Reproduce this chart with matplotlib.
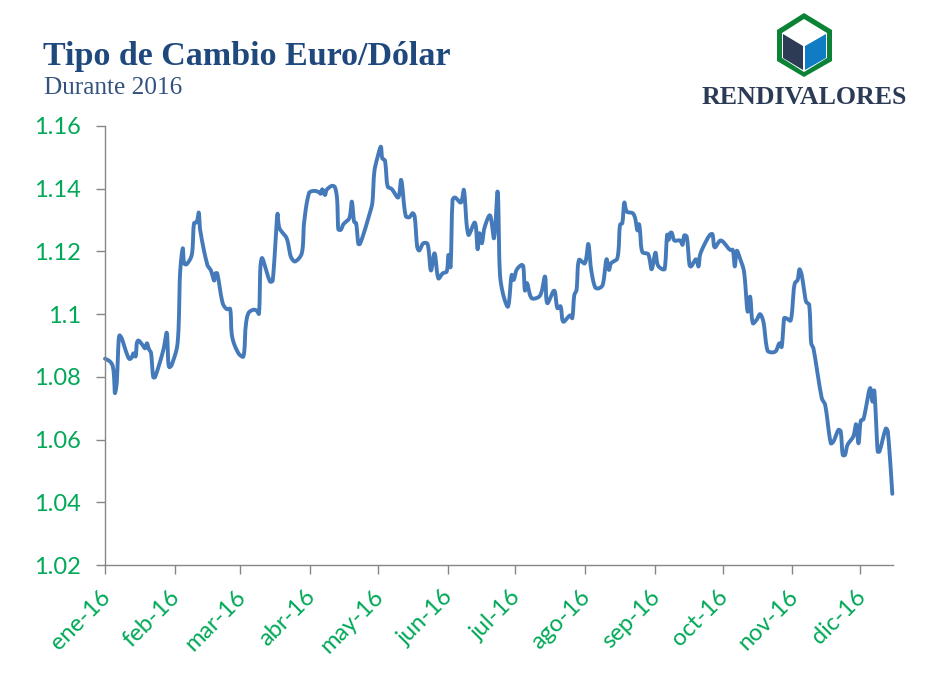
import numpy as np
import matplotlib
matplotlib.use("Agg")
import matplotlib.pyplot as plt
import matplotlib.dates as mdates
from matplotlib.patches import Polygon
from matplotlib.transforms import Affine2D, ScaledTranslation

W, H = 941, 677

# Days elapsed since 1 January 2016
days = [0, 2.2, 3.4, 4.0, 4.4, 5.2, 5.9, 6.4, 7.4, 9.6, 10.8, 11.8, 12.6, 13.6, 14.1, 14.8, 16.3, 17.8, 18.6, 19.5,
        20.4, 21.4, 22.2, 25.9, 27.4, 28, 28.5, 29.6, 32.2, 33.3, 34.5, 35.1, 36.2, 38.5, 39.5, 40.7, 41.6, 42.2,
        45.4, 46.9, 48.4, 49, 49.8, 52.2, 54, 55.5, 56.4, 59.2, 61.4, 62.4, 63.6, 65.8, 67.3, 68.3, 69.5, 73.2,
        74.4, 76.5, 77.4, 80.6, 82.4, 84.3, 87.3, 88.3, 90.5, 92.4, 94.7, 95.7, 96.4, 97.6, 98.3, 100.6, 102, 103,
        103.5, 104.6, 105.8, 108.4, 109.5, 110.5, 111.4, 112.4, 113.1, 115.3, 117.2, 118.6, 119.5, 121.2, 122.4,
        123, 124.2, 125.4, 127.2, 130.1, 131.4, 133.4, 135, 136.5, 137.4, 138.5, 139.4, 141.2, 143.1, 144.6, 146.2,
        147.9, 149.8, 151.6, 152.4, 153.3, 154.2, 155.3, 157.9, 159.2, 161.2, 164.1, 165.3, 166.1, 167.2, 168.3,
        170.8, 172.6, 174.2, 175.2, 176.7, 178.8, 180.4, 181.3, 182.6, 184.8, 185.6, 186.3, 187.2, 189.3, 193,
        195.2, 196.2, 199.3, 200.7, 202.1, 203.3, 206.3, 207.3, 208.2, 209.2, 210.3, 212.9, 214.4, 215.6, 217.4,
        218.9, 220.8, 222.5, 223.6, 224.5, 227.3, 228.5, 229.5, 230.4, 231.5, 234.1, 235.2, 236.2, 236.9, 237.4,
        238.4, 241, 242.5, 244.2, 245.2, 247, 248.3, 249.4, 250.1, 250.7, 251.4, 252.6, 255.1, 256.2, 257, 258.1,
        259.3, 260, 262.2, 263.3, 264, 266.2, 268.4, 269.5, 270.5, 273.2, 277.3, 278.5, 279.4, 280.3, 281.7, 283.5,
        285.1, 286.2, 287.4, 289.1, 290.6, 292.1, 293.9, 295.8, 297.6, 299.2, 300.2, 301.3, 302.2, 304.2, 305.4,
        306.1, 307.3, 308.1, 309.1, 311, 312.4, 313.3, 314.3, 318, 319.5, 322, 323.2, 325.4, 326.4, 327.3, 328.3,
        329.4, 332, 333.2, 334.3, 335.3, 336.5, 339.4, 340.5, 341.3, 342.8, 343.6, 346.4, 347.3, 349.3]

# EUR/USD rate at those days
rates = [1.0858, 1.0849, 1.0835, 1.0801, 1.0748, 1.0780, 1.0897, 1.0932, 1.0923, 1.0875, 1.0857, 1.0861, 1.0875,
         1.0865, 1.0907, 1.0916, 1.0905, 1.0891, 1.0907, 1.0888, 1.0877, 1.0799, 1.0799, 1.0886, 1.0941, 1.0854,
         1.0831, 1.0838, 1.0907, 1.1130, 1.1210, 1.1162, 1.1159, 1.1189, 1.1290, 1.1293, 1.1324, 1.1269, 1.1157,
         1.1141, 1.1107, 1.1130, 1.1130, 1.1035, 1.1016, 1.1017, 1.0928, 1.0875, 1.0865, 1.0960, 1.1003, 1.1014,
         1.1011, 1.1001, 1.1178, 1.1104, 1.1107, 1.1319, 1.1274, 1.1242, 1.1184, 1.1168, 1.1194, 1.1290, 1.1386,
         1.1393, 1.1390, 1.1384, 1.1398, 1.1380, 1.1396, 1.1409, 1.1405, 1.1364, 1.1271, 1.1269, 1.1287, 1.1306,
         1.1359, 1.1295, 1.1290, 1.1224, 1.1224, 1.1269, 1.1316, 1.1354, 1.1455, 1.1508, 1.1534, 1.1497, 1.1490,
         1.1407, 1.1399, 1.1372, 1.1428, 1.1313, 1.1309, 1.1322, 1.1311, 1.1215, 1.1203, 1.1226, 1.1224, 1.1139,
         1.1194, 1.1114, 1.1130, 1.1136, 1.1189, 1.1150, 1.1364, 1.1372, 1.1356, 1.1396, 1.1253, 1.1292, 1.1207,
         1.1258, 1.1226, 1.1274, 1.1315, 1.1242, 1.1391, 1.1130, 1.1061, 1.1024, 1.1125, 1.1109, 1.1141, 1.1157,
         1.1152, 1.1075, 1.1099, 1.1051, 1.1059, 1.1120, 1.1035, 1.1075, 1.1019, 1.1025, 1.0976, 1.0996, 1.0987,
         1.1061, 1.1077, 1.1173, 1.1162, 1.1224, 1.1146, 1.1086, 1.1082, 1.1093, 1.1175, 1.1141, 1.1162, 1.1178,
         1.1285, 1.1290, 1.1356, 1.1327, 1.1322, 1.1306, 1.1267, 1.1287, 1.1263, 1.1198, 1.1191, 1.1143, 1.1196,
         1.1157, 1.1144, 1.1144, 1.1253, 1.1237, 1.1258, 1.1260, 1.1235, 1.1235, 1.1221, 1.1251, 1.1247, 1.1157,
         1.1152, 1.1175, 1.1152, 1.1189, 1.1226, 1.1253, 1.1255, 1.1213, 1.1235, 1.1205, 1.1205, 1.1152, 1.1202,
         1.1178, 1.1136, 1.1008, 1.1056, 1.0971, 1.0982, 1.1000, 1.0976, 1.0884, 1.0878, 1.0882, 1.0907, 1.0895,
         1.0987, 1.0987, 1.0980, 1.1067, 1.1099, 1.1109, 1.1143, 1.1125, 1.1040, 1.1030, 1.0907, 1.0891, 1.0732,
         1.0711, 1.0588, 1.0594, 1.0631, 1.0626, 1.0551, 1.0551, 1.0583, 1.0610, 1.0649, 1.0588, 1.0660, 1.0665,
         1.0764, 1.0721, 1.0756, 1.0562, 1.0562, 1.0635, 1.0626, 1.0427]

tick_dates = ["2016-01-01", "2016-02-01", "2016-03-01", "2016-04-01", "2016-05-01", "2016-06-01",
              "2016-07-01", "2016-08-01", "2016-09-01", "2016-10-01", "2016-11-01", "2016-12-01"]
tick_labels = ["ene-16", "feb-16", "mar-16", "abr-16", "may-16", "jun-16",
               "jul-16", "ago-16", "sep-16", "oct-16", "nov-16", "dic-16"]
y_ticks = [1.02, 1.04, 1.06, 1.08, 1.10, 1.12, 1.14, 1.16]
y_labels = ["1.02", "1.04", "1.06", "1.08", "1.1", "1.12", "1.14", "1.16"]

GREEN = "#00A857"
GREY = "#868686"
LINE = "#447AB9"
TITLE = "#1F497D"


def smooth(xs, ys, aspect, steps=10):
    """Spreadsheet-style smoothed line through the points (chord-length Hermite)."""
    P = np.column_stack([xs, ys])
    S = P * [1.0, aspect]
    d = np.hypot(*np.diff(S, axis=0).T)
    d = np.maximum(d, 1e-6)
    T = np.zeros_like(S)
    T[1:-1] = (S[2:] - S[:-2]) / (d[1:] + d[:-1])[:, None]
    T[0] = (S[1] - S[0]) / d[0]
    T[-1] = (S[-1] - S[-2]) / d[-1]
    out = [S[0]]
    t = np.linspace(0, 1, steps + 1)[1:, None]
    for i in range(len(S) - 1):
        h00 = 2 * t**3 - 3 * t**2 + 1
        h10 = t**3 - 2 * t**2 + t
        h01 = -2 * t**3 + 3 * t**2
        h11 = t**3 - t**2
        out.extend(h00 * S[i] + h10 * d[i] * T[i] + h01 * S[i + 1] + h11 * d[i] * T[i + 1])
    out = np.array(out) / [1.0, aspect]
    return out[:, 0], out[:, 1]


fig = plt.figure(figsize=(W / 100, H / 100), dpi=100, facecolor="white")
ax = fig.add_axes([105 / W, 1 - 565 / H, (893 - 105) / W, (565 - 126) / H])

start = mdates.date2num(np.datetime64("2016-01-01"))
day_scale = (893 - 105) / 349.6          # screen units per day
rate_scale = (565 - 126) / 0.14          # screen units per unit of rate
sx, sy = smooth(np.array(days), np.array(rates), rate_scale / day_scale)
ax.plot(start + sx, sy, color=LINE, lw=2.8, solid_joinstyle="round", solid_capstyle="round", clip_on=False)

ax.set_xlim(start, start + 349.6)
ax.set_ylim(1.02, 1.16)
ax.set_yticks(y_ticks)
ax.set_yticklabels(y_labels)
ax.set_xticks([mdates.date2num(np.datetime64(d)) for d in tick_dates])
ax.set_xticklabels(tick_labels, rotation=45, ha="right", va="center", rotation_mode="anchor")

for s in ("top", "right"):
    ax.spines[s].set_visible(False)
for s in ("left", "bottom"):
    ax.spines[s].set_color(GREY)
    ax.spines[s].set_linewidth(1.0)
ax.tick_params(axis="both", direction="out", length=6.5, width=1.0, color=GREY, labelcolor=GREEN)
ax.tick_params(axis="y", pad=11, labelsize=17)
ax.tick_params(axis="x", pad=14, labelsize=17)
shift = ScaledTranslation(2 / 100, 0, fig.dpi_scale_trans)
for lab in ax.get_xticklabels():
    lab.set_fontfamily(["Lato", "DejaVu Sans"])
    lab.set_transform(lab.get_transform() + shift)
for lab in ax.get_yticklabels():
    lab.set_fontfamily(["Lato", "DejaVu Sans"])

# Heading
fig.text(43 / W, 1 - 65 / H, "Tipo de Cambio Euro/Dólar", family="Liberation Serif", weight="bold",
         fontsize=24.5, color=TITLE, ha="left", va="baseline")
fig.text(44 / W, 1 - 94 / H, "Durante 2016", family="Liberation Serif", fontsize=18.2,
         color="#33527F", ha="left", va="baseline")

# Logo
px = Affine2D().scale(1 / W, -1 / H).translate(0, 1) + fig.transFigure


def shape(points, color, z=5):
    fig.add_artist(Polygon(points, closed=True, facecolor=color, edgecolor="none", transform=px, zorder=z))


shape([(804, 13), (832, 30), (832, 61), (804, 77), (777, 61), (777, 30)], "#0B8236", 5)
shape([(804, 19), (827, 33), (827, 58), (804, 72), (782, 58), (782, 33)], "white", 6)
shape([(783, 34), (803, 46), (803, 70), (783, 58)], "#2E3B55", 7)
shape([(805, 46), (826, 34), (826, 58), (805, 70)], "#0F7CC4", 7)
fig.text(804.5 / W, 1 - 103.5 / H, "RENDIVALORES", family="Liberation Serif", weight="bold", fontsize=18.6,
         color="#2B3A55", ha="center", va="baseline")

fig.savefig("out.png", dpi=100, facecolor="white")
